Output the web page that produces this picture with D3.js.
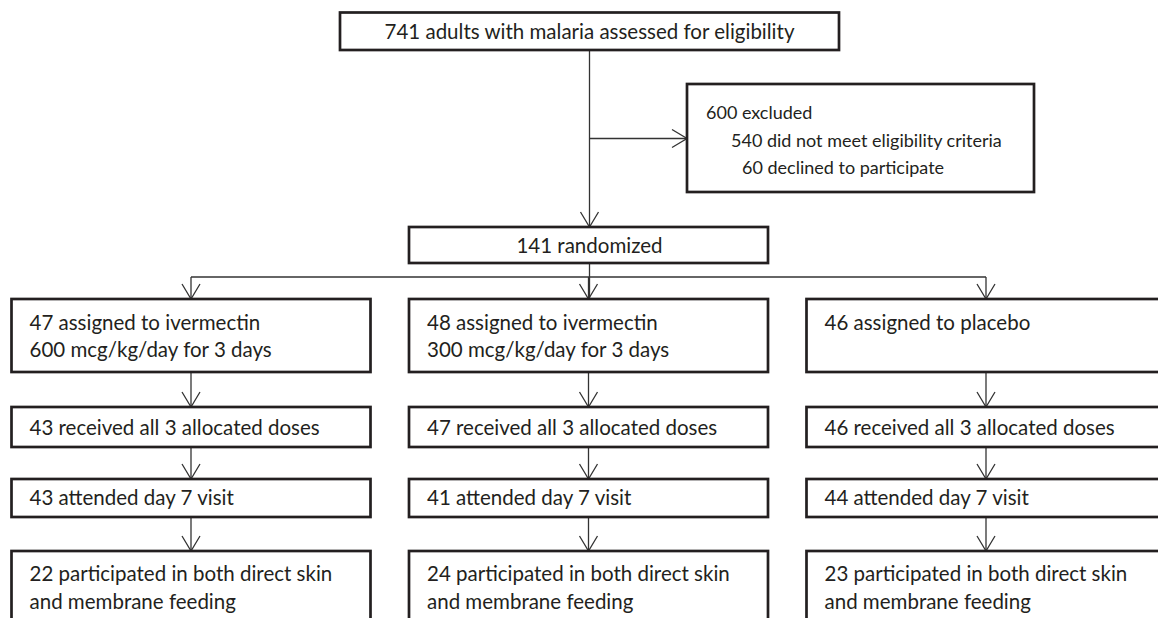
<!DOCTYPE html>
<html>
<head>
<meta charset="utf-8">
<script src="https://cdn.jsdelivr.net/npm/d3@7"></script>
<style>
  html, body { margin: 0; padding: 0; background: #fff; }
  svg { display: block; }
</style>
</head>
<body>
<div id="chart"></div>
<script>
// CONSORT flow — screening, exclusion, randomization, three arms.

const screened = 741;
const screenedLabel = 'adults with malaria assessed for eligibility';
const excludedLines = ['600 excluded', '540 did not meet eligibility criteria', '60 declined to participate'];
const randomized = 141;

const arms = ['ivermectin600', 'ivermectin300', 'placebo'];
const assigned = [47, 48, 46];
const assignedLine1 = ['assigned to ivermectin', 'assigned to ivermectin', 'assigned to placebo'];
const assignedLine2 = ['600 mcg/kg/day for 3 days', '300 mcg/kg/day for 3 days', ''];
const receivedAll = [43, 47, 46];
const attendedDay7 = [43, 41, 44];
const bothFeeding = [22, 24, 23];

const W = 1158, H = 618;
const FONT = 'Lato, sans-serif';
const FS = 20.5;      // main box text
const FS_EXCL = 18;   // exclusion box text is a touch smaller
const INK = '#231f20';

const svg = d3.select('#chart').append('svg')
  .attr('width', W).attr('height', H);

// column centres for the three arms
const colX = d3.scalePoint().domain(arms).range([191, 986]);
const boxW = 359;
const centerX = 589.5;

// row layout of arm boxes: top, height, first baseline offset, line gap
const rows = [
  { key: 'assigned', top: 299, h: 73, base: 31, gap: 27, lines: i => [`${assigned[i]} ${assignedLine1[i]}`, assignedLine2[i]] },
  { key: 'received', top: 407, h: 40, base: 28, gap: 0, lines: i => [`${receivedAll[i]} received all 3 allocated doses`] },
  { key: 'attended', top: 479, h: 38, base: 26, gap: 0, lines: i => [`${attendedDay7[i]} attended day 7 visit`] },
  { key: 'feeding', top: 551, h: 90, base: 30, gap: 28, lines: i => [`${bothFeeding[i]} participated in both direct skin`, 'and membrane feeding'] },
];

function box(x, y, w, h) {
  svg.append('rect')
    .attr('x', x).attr('y', y).attr('width', w).attr('height', h)
    .attr('fill', '#fff').attr('stroke', INK).attr('stroke-width', 2.7);
}

function line(x1, y1, x2, y2) {
  svg.append('line')
    .attr('x1', x1).attr('y1', y1).attr('x2', x2).attr('y2', y2)
    .attr('stroke', '#333').attr('stroke-width', 1.3);
}

// open V arrowhead pointing down or right, tip at (x, y)
function arrowHead(x, y, dir) {
  const L = 15, S = 9;
  const pts = dir === 'down'
    ? [[x - S, y - L], [x, y], [x + S, y - L]]
    : [[x - L, y - S], [x, y], [x - L, y + S]];
  svg.append('path')
    .attr('d', d3.line()(pts))
    .attr('fill', 'none').attr('stroke', '#333').attr('stroke-width', 1.3);
}

function text(x, y, str, anchor, size) {
  svg.append('text')
    .attr('x', x).attr('y', y)
    .attr('text-anchor', anchor || 'start')
    .style('font-family', FONT).style('font-size', (size || FS) + 'px')
    .style('fill', INK)
    .text(str);
}

// connectors first so boxes sit on top
line(centerX, 50, centerX, 227);
arrowHead(centerX, 227, 'down');
line(centerX, 138.5, 687, 138.5);
arrowHead(687, 138.5, 'right');

line(centerX, 263, centerX, 299);
line(colX(arms[0]), 277, colX(arms[2]), 277);
arms.forEach(a => {
  line(colX(a), 277, colX(a), 299);
  arrowHead(colX(a), 299, 'down');
});

rows.forEach((r, ri) => {
  if (ri === 0) return;
  const prev = rows[ri - 1];
  arms.forEach(a => {
    line(colX(a), prev.top + prev.h, colX(a), r.top);
    arrowHead(colX(a), r.top, 'down');
  });
});

// screening box
box(340, 12.5, 499, 37.5);
text(centerX, 39, `${screened} ${screenedLabel}`, 'middle');

// excluded box
box(687, 84, 347, 108);
const excludedIndent = [19, 44, 55];
excludedLines.forEach((s, i) => text(687 + excludedIndent[i], 119 + i * 27.5, s, 'start', FS_EXCL));

// randomized box
box(409, 227, 359, 36);
text(centerX, 253, `${randomized} randomized`, 'middle');

// arm boxes
rows.forEach(r => {
  arms.forEach((a, i) => {
    const x0 = colX(a) - boxW / 2;
    box(x0, r.top, boxW, r.h);
    r.lines(i).filter(s => s)
      .forEach((s, j) => text(x0 + 18, r.top + r.base + j * r.gap, s));
  });
});
</script>
</body>
</html>
